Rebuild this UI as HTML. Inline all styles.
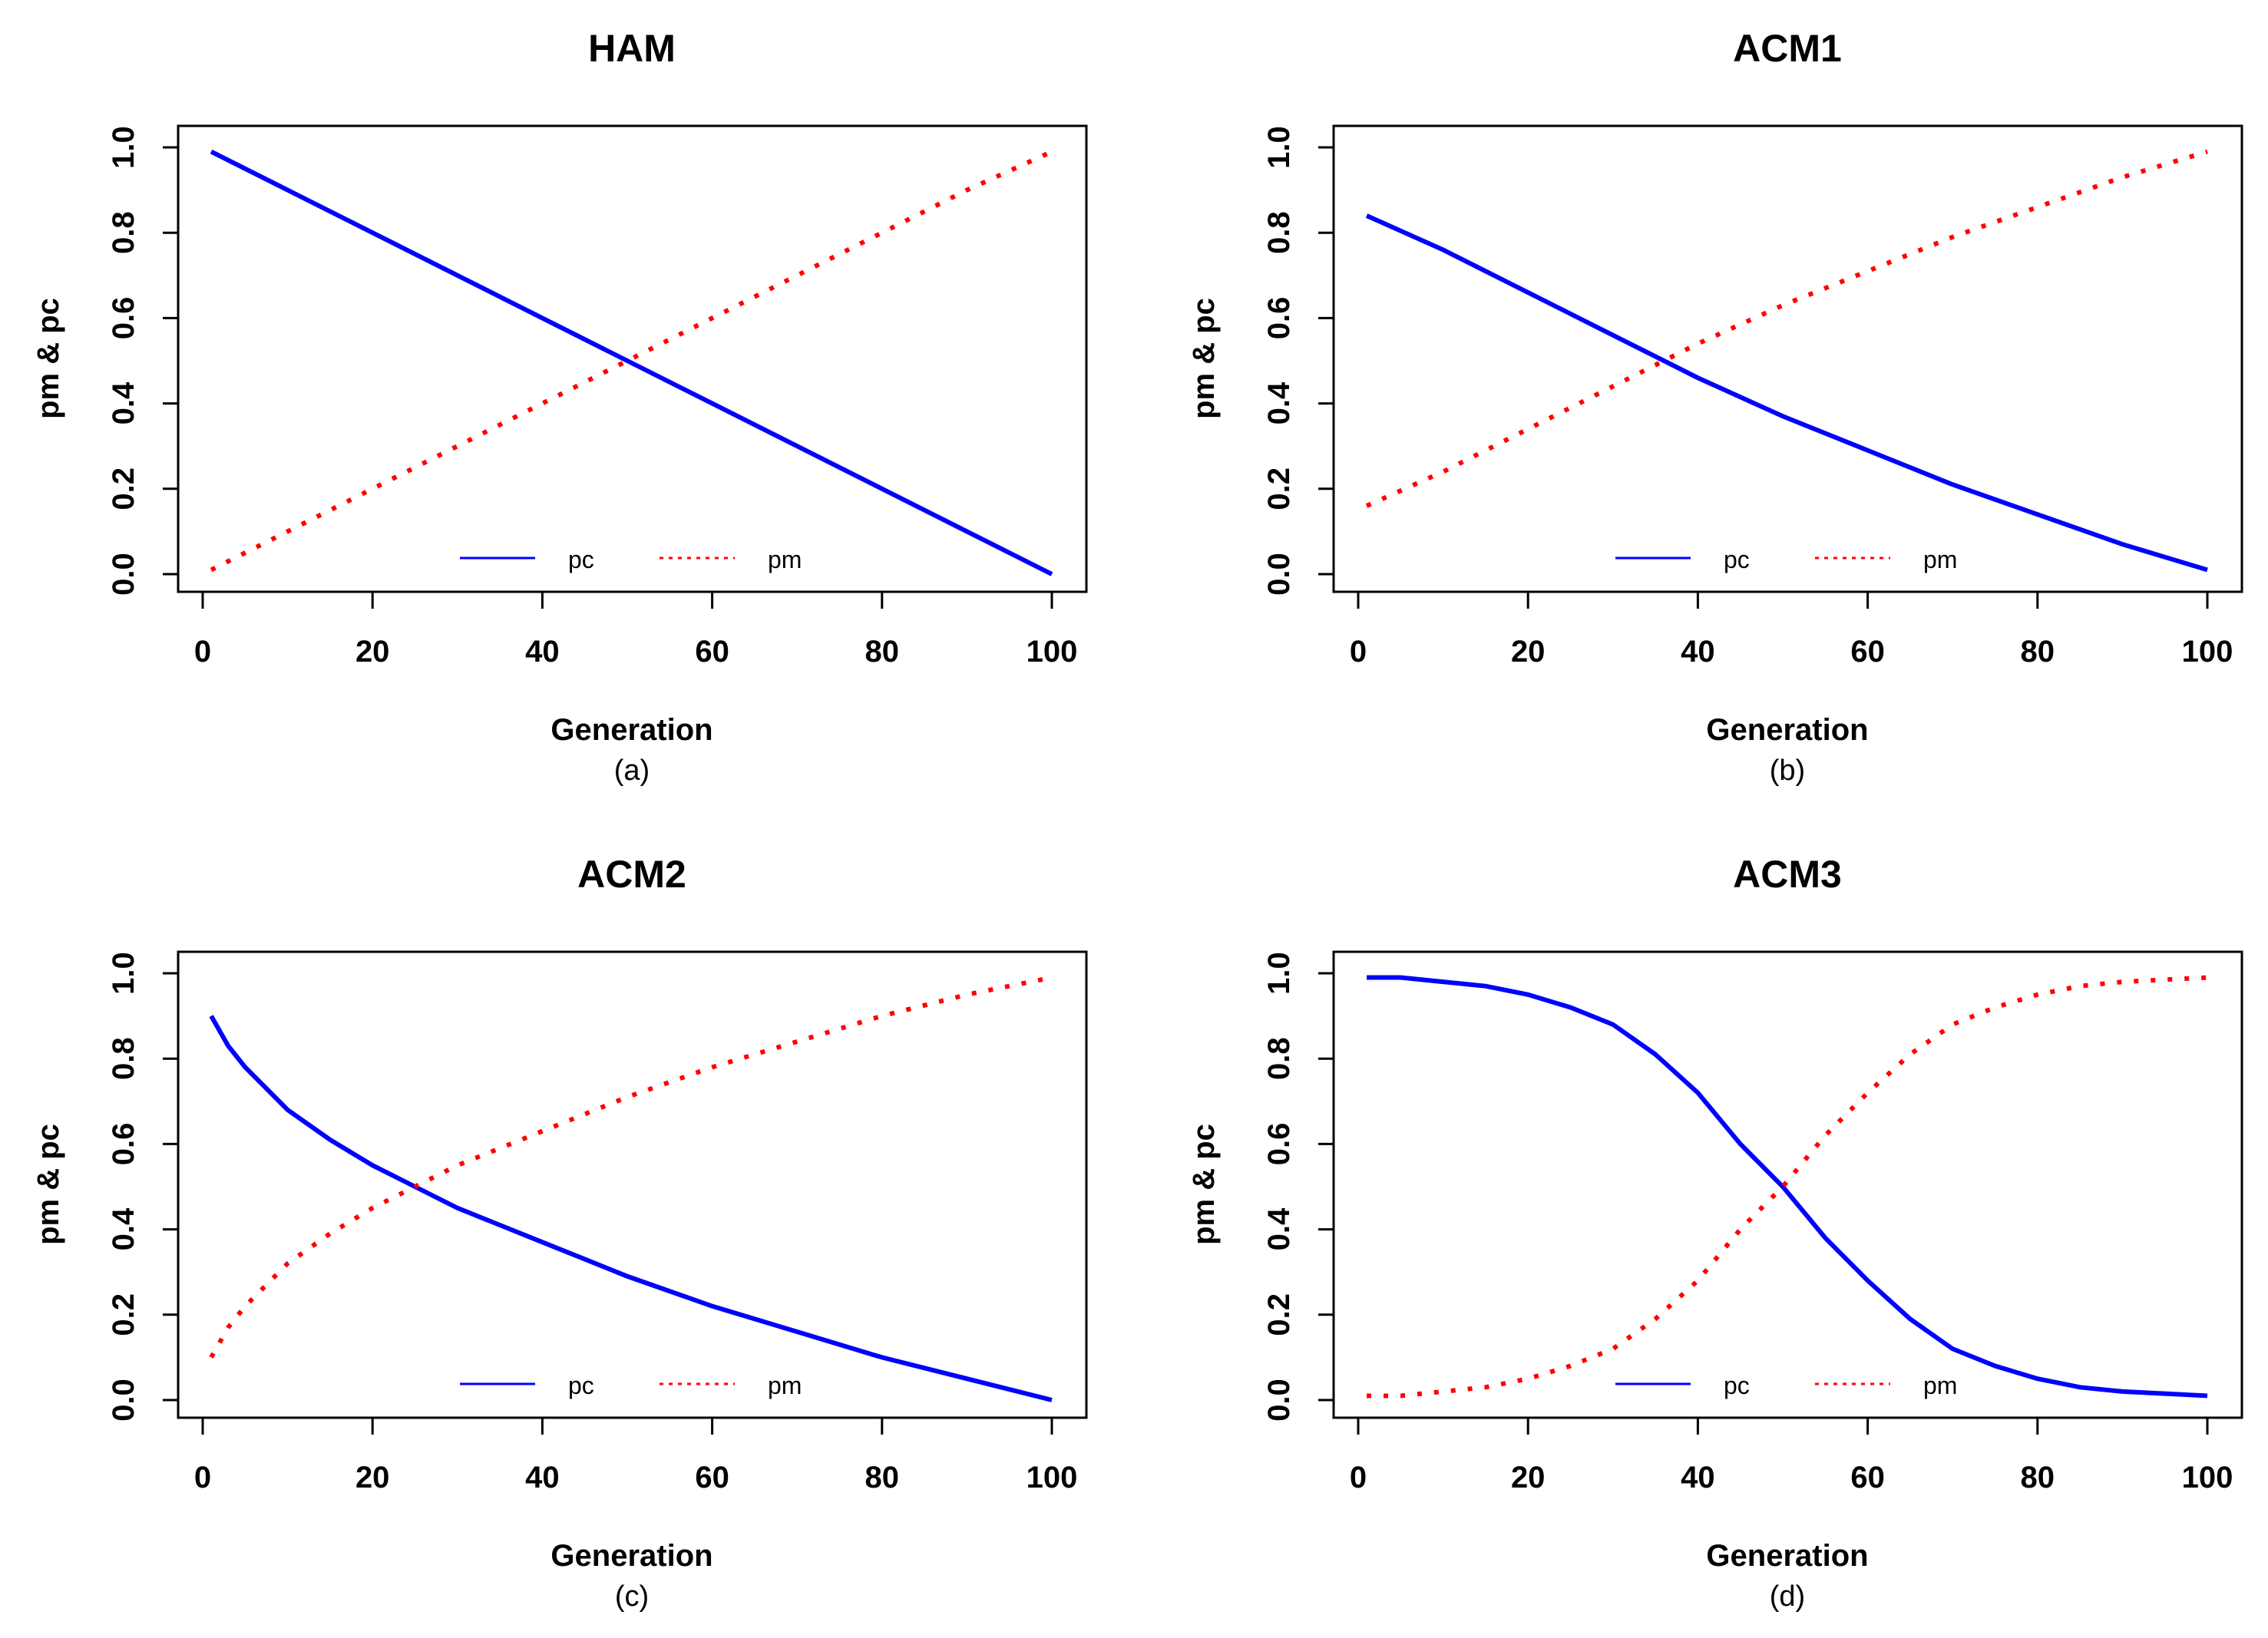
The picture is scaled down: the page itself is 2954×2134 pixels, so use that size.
<!DOCTYPE html>
<html><head><meta charset="utf-8"><style>
html,body{margin:0;padding:0;background:#fff;}
svg{display:block;}
text{font-family:"Liberation Sans",sans-serif;}
</style></head><body>
<svg id="fig" width="2954" height="2134" viewBox="0 0 2954 2134" xmlns="http://www.w3.org/2000/svg"></svg>
<script>
// Data: generation sample points and pc values per panel (pm = shown separately)
const titles = ["HAM","ACM1","ACM2","ACM3"];
const captions = ["(a)","(b)","(c)","(d)"];
const xTicks = [0,20,40,60,80,100];
const yTicks = [0,0.2,0.4,0.6,0.8,1.0];
const yTickLabels = ["0.0","0.2","0.4","0.6","0.8","1.0"];
const hamGen = [1,10,20,30,40,50,60,70,80,90,100];
const hamPc = [0.99,0.90,0.80,0.70,0.60,0.50,0.40,0.30,0.20,0.10,0.00];
const hamPm = [0.01,0.10,0.20,0.30,0.40,0.50,0.60,0.70,0.80,0.90,0.99];
const acm1Gen = [1,10,20,30,40,50,60,70,80,90,100];
const acm1Pc = [0.84,0.76,0.66,0.56,0.46,0.37,0.29,0.21,0.14,0.07,0.01];
const acm1Pm = [0.16,0.24,0.34,0.44,0.54,0.63,0.71,0.79,0.86,0.93,0.99];
const acm2Gen = [1,3,5,10,15,20,25,30,40,50,60,70,80,90,100];
const acm2Pc = [0.90,0.83,0.78,0.68,0.61,0.55,0.50,0.45,0.37,0.29,0.22,0.16,0.10,0.05,0.00];
const acm2Pm = [0.10,0.17,0.22,0.32,0.39,0.45,0.50,0.55,0.63,0.71,0.78,0.84,0.90,0.95,0.99];
const acm3Gen = [1,5,10,15,20,25,30,35,40,45,50,55,60,65,70,75,80,85,90,95,100];
const acm3Pc = [0.99,0.99,0.98,0.97,0.95,0.92,0.88,0.81,0.72,0.60,0.50,0.38,0.28,0.19,0.12,0.08,0.05,0.03,0.02,0.015,0.01];
const acm3Pm = [0.01,0.01,0.02,0.03,0.05,0.08,0.12,0.19,0.28,0.40,0.50,0.62,0.72,0.81,0.88,0.92,0.95,0.97,0.98,0.985,0.99];
const panelGen = [hamGen,acm1Gen,acm2Gen,acm3Gen];
const panelPc = [hamPc,acm1Pc,acm2Pc,acm3Pc];
const panelPm = [hamPm,acm1Pm,acm2Pm,acm3Pm];

const NS="http://www.w3.org/2000/svg";
const svg=document.getElementById('fig');
function mk(tag,attrs,parent){const e=document.createElementNS(NS,tag);for(const k in attrs)e.setAttribute(k,attrs[k]);(parent||svg).appendChild(e);return e;}

for(let p=0;p<4;p++){
  const dx=(p%2)*1505, dy=Math.floor(p/2)*1076;
  const g=mk('g',{transform:`translate(${dx},${dy})`});
  
  
  const bx0=232,bx1=1415,by0=164,by1=771;
  const xs=v=>264+(v/100)*(1370-264);
  const ys=v=>748-v*(748-192);
  const t=mk('text',{x:823,y:80,'text-anchor':'middle','font-size':50,'font-weight':'bold'},g);t.textContent=titles[p];
  
  
  const box=mk('rect',{x:bx0,y:by0,width:bx1-bx0,height:by1-by0,fill:'none',stroke:'#000','stroke-width':3},g);
  
  
  // x axis
  const xa=mk('g',{},g);
  
  
  mk('line',{x1:xs(0),x2:xs(100),y1:by1,y2:by1,stroke:'#000','stroke-width':3},xa);
  xTicks.forEach(v=>{
    mk('line',{x1:xs(v),x2:xs(v),y1:by1,y2:by1+22,stroke:'#000','stroke-width':3},xa);
    const tl=mk('text',{x:xs(v),y:862,'text-anchor':'middle','font-size':40,'font-weight':'bold'},xa);tl.textContent=v;
    
    
  });
  const xt=mk('text',{x:823,y:964,'text-anchor':'middle','font-size':40,'font-weight':'bold'},g);xt.textContent='Generation';
  
  
  const cp=mk('text',{x:823,y:1016,'text-anchor':'middle','font-size':38},g);cp.textContent=captions[p];
  
  
  // y axis
  const ya=mk('g',{},g);
  
  
  mk('line',{x1:bx0,x2:bx0,y1:ys(0),y2:ys(1),stroke:'#000','stroke-width':3},ya);
  yTicks.forEach((v,i)=>{
    mk('line',{x1:bx0-20,x2:bx0,y1:ys(v),y2:ys(v),stroke:'#000','stroke-width':3},ya);
    const tl=mk('text',{x:174,y:ys(v),'text-anchor':'middle','font-size':40,'font-weight':'bold',transform:`rotate(-90 174 ${ys(v)})`},ya);tl.textContent=yTickLabels[i];
    
    
  });
  const yt=mk('text',{x:76,y:467,'text-anchor':'middle','font-size':40,'font-weight':'bold',transform:'rotate(-90 76 467)'},g);yt.textContent='pm & pc';
  
  
  // series
  const gen=panelGen[p];
  const pcPts=gen.map((x,i)=>xs(x)+','+ys(panelPc[p][i])).join(' ');
  const pmPts=gen.map((x,i)=>xs(x)+','+ys(panelPm[p][i])).join(' ');
  const pc=mk('polyline',{points:pcPts,fill:'none',stroke:'#0000ff','stroke-width':6},g);
  
  
  const pm=mk('polyline',{points:pmPts,fill:'none',stroke:'#ff0000','stroke-width':6,'stroke-dasharray':'6 16'},g);
  
  
  // legend
  const lg=mk('g',{},g);
  
  
  mk('line',{x1:599,x2:697,y1:727,y2:727,stroke:'#0000ff','stroke-width':3},lg);
  const l1=mk('text',{x:740,y:740,'font-size':32},lg);l1.textContent='pc';
  
  
  mk('line',{x1:859,x2:957,y1:727,y2:727,stroke:'#ff0000','stroke-width':3,'stroke-dasharray':'5 7'},lg);
  const l2=mk('text',{x:1000,y:740,'font-size':32},lg);l2.textContent='pm';
  
  
}
</script>
</body></html>
